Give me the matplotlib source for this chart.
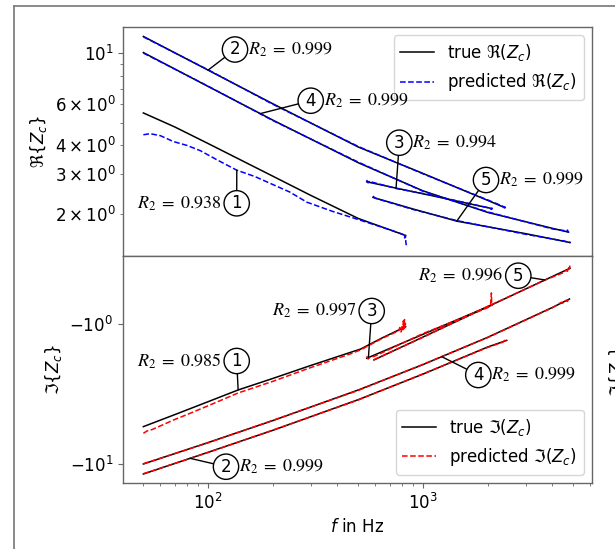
import numpy as np
import matplotlib
matplotlib.use('Agg')
import matplotlib.pyplot as plt
from matplotlib.ticker import NullLocator
from matplotlib.lines import Line2D

# ------------------------------------------------------------------ data
# Real part of Z_c (top panel): frequency [Hz] and values
re1_f_true = [50, 70, 100, 200, 300, 500, 830]
re1_true = [5.51, 4.79, 4.06, 2.93, 2.42, 1.92, 1.62]
re1_f_pred = [50, 53.7, 60, 69, 80, 92, 110, 136, 165, 194, 240, 288, 380, 500,
              620, 720, 790, 815, 822, 828, 832, 836]
re1_pred = [4.43, 4.48, 4.39, 4.14, 3.98, 3.78, 3.45, 3.11, 2.92, 2.73, 2.50, 2.26,
            2.06, 1.90, 1.78, 1.70, 1.65, 1.63, 1.58, 1.62, 1.51, 1.47]

re2_f_true = [50, 100, 200, 500, 1000, 2000, 2400]
re2_true = [11.83, 8.45, 6.04, 3.92, 3.01, 2.30, 2.14]
re2_f_pred = [50, 100, 200, 500, 1000, 2000, 2350, 2380, 2400, 2420]
re2_pred = [11.78, 8.48, 6.01, 3.94, 3.00, 2.31, 2.17, 2.14, 2.16, 2.12]

re3_f_true = [547, 750, 1080, 1500, 2090]
re3_true = [2.77, 2.60, 2.42, 2.265, 2.12]
re3_f_pred = [547, 555, 565, 580, 750, 1080, 1500, 2000, 2060, 2080, 2090, 2095]
re3_pred = [2.82, 2.74, 2.80, 2.76, 2.59, 2.43, 2.27, 2.14, 2.12, 2.10, 2.13, 2.11]

re4_f_true = [50, 100, 200, 500, 1000, 2000, 4000, 4750]
re4_true = [10.07, 7.18, 5.13, 3.35, 2.53, 2.04, 1.74, 1.675]
re4_f_pred = [50, 100, 200, 500, 1000, 2000, 4000, 4550, 4650, 4700, 4750]
re4_pred = [10.02, 7.20, 5.11, 3.37, 2.52, 2.05, 1.73, 1.70, 1.69, 1.71, 1.665]

re5_f_true = [585, 900, 1435, 3000, 4830]
re5_true = [2.37, 2.11, 1.87, 1.65, 1.51]
re5_f_pred = [585, 600, 900, 1435, 3000, 4500, 4700, 4800, 4830]
re5_pred = [2.40, 2.35, 2.10, 1.88, 1.64, 1.535, 1.52, 1.525, 1.50]

# Imaginary part of Z_c (bottom panel)
im1_f_true = [50, 70, 100, 138, 200, 300, 457, 513, 644, 830]
im1_true = [-5.41, -4.44, -3.59, -2.96, -2.45, -1.98, -1.60, -1.51, -1.26, -1.045]
im1_f_pred = [50, 52, 55, 70, 80, 100, 138, 200, 300, 457, 513, 644, 760, 770, 780,
              790, 800, 805, 810, 815, 820, 825, 830]
im1_pred = [-6.04, -5.81, -5.67, -4.81, -4.43, -3.84, -3.11, -2.57, -2.05, -1.64,
            -1.53, -1.27, -1.13, -1.12, -1.06, -1.14, -1.02, -1.10, -0.95, -1.08,
            -0.93, -1.06, -0.99]

im2_f_true = [50, 100, 200, 500, 1000, 2000, 2450]
im2_true = [-11.79, -8.25, -5.75, -3.47, -2.28, -1.46, -1.31]
im2_f_pred = [50, 100, 200, 500, 1000, 2000, 2350, 2400, 2430, 2450]
im2_pred = [-11.74, -8.28, -5.73, -3.49, -2.27, -1.47, -1.35, -1.31, -1.34, -1.30]

im3_f_true = [547, 1000, 2087]
im3_true = [-1.758, -1.185, -0.732]
im3_f_pred = [547, 555, 565, 600, 1000, 2000, 2060, 2080, 2087, 2090]
im3_pred = [-1.70, -1.78, -1.74, -1.69, -1.17, -0.765, -0.745, -0.60, -0.74, -0.72]

im4_f_true = [50, 100, 200, 500, 1000, 2000, 4000, 4800]
im4_true = [-10.0, -7.03, -4.90, -2.96, -1.95, -1.245, -0.762, -0.663]
im4_f_pred = [50, 100, 200, 500, 1000, 2000, 4000, 4400, 4500, 4600, 4700, 4750, 4800]
im4_pred = [-9.96, -7.06, -4.88, -2.98, -1.94, -1.25, -0.765, -0.70, -0.715, -0.68,
            -0.69, -0.66, -0.672]

im5_f_true = [591, 1000, 2000, 3690, 4830]
im5_true = [-1.807, -1.239, -0.753, -0.485, -0.40]
im5_f_pred = [591, 1000, 2000, 3690, 4500, 4600, 4700, 4750, 4800, 4830]
im5_pred = [-1.80, -1.245, -0.748, -0.486, -0.43, -0.415, -0.42, -0.39, -0.405, -0.37]

re_r2 = {'1': '0.938', '2': '0.999', '3': '0.994', '4': '0.999', '5': '0.999'}
im_r2 = {'1': '0.985', '2': '0.999', '3': '0.997', '4': '0.999', '5': '0.996'}

# ------------------------------------------------------------------ style
plt.rcParams.update({
    'font.family': ['DejaVu Sans'],
    'font.size': 12,
    'axes.edgecolor': '#666666',
    'axes.linewidth': 1.0,
    'xtick.color': '#666666',
    'ytick.color': '#666666',
    'xtick.labelcolor': 'black',
    'ytick.labelcolor': 'black',
})

W, H = 615, 549
fig = plt.figure(figsize=(W / 100, H / 100), dpi=100)
ax1 = fig.add_axes([123 / W, (H - 256) / H, 469 / W, 229 / H])
ax2 = fig.add_axes([123 / W, (H - 483) / H, 469 / W, 227 / H], sharex=ax1)

LW = 1.1
re_true = [(re1_f_true, re1_true), (re2_f_true, re2_true), (re3_f_true, re3_true),
           (re4_f_true, re4_true), (re5_f_true, re5_true)]
re_pred = [(re1_f_pred, re1_pred), (re2_f_pred, re2_pred), (re3_f_pred, re3_pred),
           (re4_f_pred, re4_pred), (re5_f_pred, re5_pred)]
im_true = [(im1_f_true, im1_true), (im2_f_true, im2_true), (im3_f_true, im3_true),
           (im4_f_true, im4_true), (im5_f_true, im5_true)]
im_pred = [(im1_f_pred, im1_pred), (im2_f_pred, im2_pred), (im3_f_pred, im3_pred),
           (im4_f_pred, im4_pred), (im5_f_pred, im5_pred)]

for i, (f, v) in enumerate(re_true):
    ax1.plot(f, v, color='black', lw=LW, label=r'true $\Re(Z_c)$' if i == 0 else None)
for i, (f, v) in enumerate(re_pred):
    ax1.plot(f, v, color='b', ls='--', lw=LW, label=r'predicted $\Re(Z_c)$' if i == 0 else None)
for i, (f, v) in enumerate(im_true):
    ax2.plot(f, v, color='black', lw=LW, label=r'true $\Im(Z_c)$' if i == 0 else None)
for i, (f, v) in enumerate(im_pred):
    ax2.plot(f, v, color='r', ls='--', lw=LW, label=r'predicted $\Im(Z_c)$' if i == 0 else None)

ax1.set_xscale('log')
ax1.set_yscale('log')
ax1.set_xlim(40.2, 6110)
ax1.set_ylim(1.32, 13.0)
ax1.tick_params(axis='x', which='both', bottom=False, labelbottom=False)

ax2.set_yscale('symlog', linthresh=0.1)
ax2.set_ylim(-13.67, -0.327)
ax2.yaxis.set_minor_locator(NullLocator())

ax1.set_ylabel(r'$\Re\{Z_c\}$')
ax2.set_ylabel(r'$\Im\{Z_c\}$')
ax2.set_xlabel(r'$f$ in Hz')

ax1.legend(loc='upper right')
ax2.legend(loc='lower right')


def on_curve(fs, vs, f):
    vs = np.asarray(vs, dtype=float)
    s = np.sign(vs[0])
    return s * np.exp(np.interp(np.log(f), np.log(fs), np.log(np.abs(vs))))


def label(ax, num, center, curve, f_at, r2, side):
    cx, cy = center
    fs, vs = curve
    ax.annotate(num, xy=(f_at, on_curve(fs, vs, f_at)), xycoords='data',
                xytext=(cx, H - cy), textcoords='figure pixels',
                ha='center', va='center', fontsize=12,
                bbox=dict(boxstyle='circle,pad=0.22', fc='white', ec='black', lw=1.0),
                arrowprops=dict(arrowstyle='-', color='black', lw=1.0,
                                shrinkA=0, shrinkB=0))
    txt = r'$R_2\;=\;%s$' % r2
    if side == 'right':
        fig.text((cx + 13) / W, (H - cy) / H, txt, ha='left',
                 va='center', fontsize=13, math_fontfamily='stix')
    else:
        fig.text((cx - 15) / W, (H - cy) / H, txt, ha='right',
                 va='center', fontsize=13, math_fontfamily='stix')


# top panel labels
label(ax1, '2', (235, 49.5), re_true[1], 100, re_r2['2'], 'right')
label(ax1, '4', (310.7, 100.7), re_true[3], 175, re_r2['4'], 'right')
label(ax1, '3', (399.3, 142.7), re_true[2], 749, re_r2['3'], 'right')
label(ax1, '5', (486, 180), re_true[4], 1435, re_r2['5'], 'right')
label(ax1, '1', (236.7, 203.3), re_pred[0], 136, re_r2['1'], 'left')
# bottom panel labels
label(ax2, '1', (236.7, 361), im_true[0], 138, im_r2['1'], 'left')
label(ax2, '2', (226, 466.7), im_true[1], 82.5, im_r2['2'], 'right')
label(ax2, '3', (371.7, 311), im_true[2], 557, im_r2['3'], 'left')
label(ax2, '5', (518.3, 275.7), im_true[4], 3690, im_r2['5'], 'left')
label(ax2, '4', (478.3, 375), im_true[3], 1222, im_r2['4'], 'right')

# outer frame of the original image and the clipped neighbouring label
fig.add_artist(Line2D([14 / W, 14 / W], [0, (H - 6) / H], transform=fig.transFigure,
                      color='#808080', lw=1.3))
fig.add_artist(Line2D([14 / W, 1.0], [(H - 6) / H, (H - 6) / H], transform=fig.transFigure,
                      color='#808080', lw=1.3))
fig.text(607 / W, (H - 372) / H, r'$\Im\{Z_c\}$', rotation=90, ha='left', va='center',
         fontsize=12)

fig.savefig('out.png', dpi=100)
